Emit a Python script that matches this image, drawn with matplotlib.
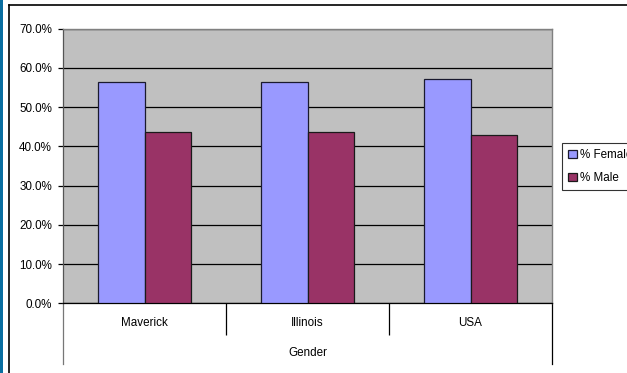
import matplotlib
matplotlib.use("Agg")
import matplotlib.pyplot as plt
import matplotlib.patches as mpatches
import matplotlib.lines as mlines
import matplotlib.transforms as mtrans
import numpy as np

plt.rcParams["font.family"] = ["Liberation Sans", "DejaVu Sans"]

categories = ["Maverick", "Illinois", "USA"]
female = [56.3, 56.3, 57.2]
male = [43.7, 43.7, 42.8]
yticks = [0, 10, 20, 30, 40, 50, 60, 70]
axis_title = "Gender"

W, H = 627, 373
PX = 72 / 100  # points per pixel
fs = 8.4
fig = plt.figure(figsize=(W / 100, H / 100), dpi=100)
fig.patch.set_facecolor("white")

# plot area in pixels: x 63..552, y 28.7..303.3
ax = fig.add_axes([63 / W, 1 - 303.3 / H, (552 - 63) / W, (303.3 - 28.7) / H])
ax.set_facecolor("#C0C0C0")

x = np.arange(len(categories))
w = 1 / 3.5
ax.bar(x - w / 2, female, w, color="#9999FF", edgecolor="#1a1a2e",
       linewidth=0.9, label="% Female", zorder=3)
ax.bar(x + w / 2, male, w, color="#993366", edgecolor="#1a1a1a",
       linewidth=0.9, label="% Male", zorder=3)

ax.set_ylim(0, 70)
ax.set_xlim(-0.5, len(categories) - 0.5)
ax.set_yticks(yticks)
ax.set_yticklabels([f"{v:.1f}%" for v in yticks], fontsize=fs)
ax.yaxis.grid(True, color="black", linewidth=0.9, zorder=1)
ax.set_axisbelow(True)
ax.tick_params(axis="y", length=5 * PX, width=0.9, pad=6 * PX, color="black")

# category boundaries as major ticks, labels as minor ticks
ax.set_xticks(x[:-1] + 0.5)
ax.set_xticklabels([])
ax.tick_params(axis="x", which="major", length=32 * PX, width=0.9, color="black")
ax.set_xticks(x, minor=True)
ax.set_xticklabels(categories, minor=True, fontsize=fs)
ax.tick_params(axis="x", which="minor", length=0, pad=14 * PX)

for s in ["top", "right"]:
    ax.spines[s].set_color("#808080")
    ax.spines[s].set_linewidth(1.0)
ax.spines["left"].set_color("#555555")
ax.spines["bottom"].set_color("black")
ax.spines["left"].set_linewidth(0.9)
ax.spines["bottom"].set_linewidth(0.9)

# outer category axis lines
trans = mtrans.blended_transform_factory(ax.transAxes, fig.transFigure)
for xa, col in [(0, "#777777"), (1, "black")]:
    ax.add_line(mlines.Line2D([xa, xa], [1 - 303.3 / H, 1 - 364 / H],
                              transform=trans, color=col, linewidth=0.9,
                              clip_on=False))

fig.text((63 + 552) / 2 / W, 1 - 353 / H, axis_title, ha="center",
         va="center", fontsize=fs)

leg = fig.legend(loc="upper left", bbox_to_anchor=(562 / W, 1 - 143 / H),
                 fontsize=fs, frameon=True, fancybox=False,
                 handlelength=0.7, handleheight=0.7, handletextpad=0.25,
                 borderpad=0.55, labelspacing=0.9, borderaxespad=0)
leg.get_frame().set_edgecolor("black")
leg.get_frame().set_linewidth(0.8)

# outer frame and blue strip
fig.add_artist(mpatches.Rectangle((0, 0), 3.3 / W, 1, transform=fig.transFigure,
                                  color="#0A6EA0", linewidth=0))
fig.add_artist(mlines.Line2D([8.5 / W, 1], [1 - 5.3 / H, 1 - 5.3 / H],
                             transform=fig.transFigure, color="black", linewidth=1.2))
fig.add_artist(mlines.Line2D([8.5 / W, 8.5 / W], [0, 1 - 5.3 / H],
                             transform=fig.transFigure, color="black", linewidth=1.2))

fig.savefig("out.png", dpi=100)
